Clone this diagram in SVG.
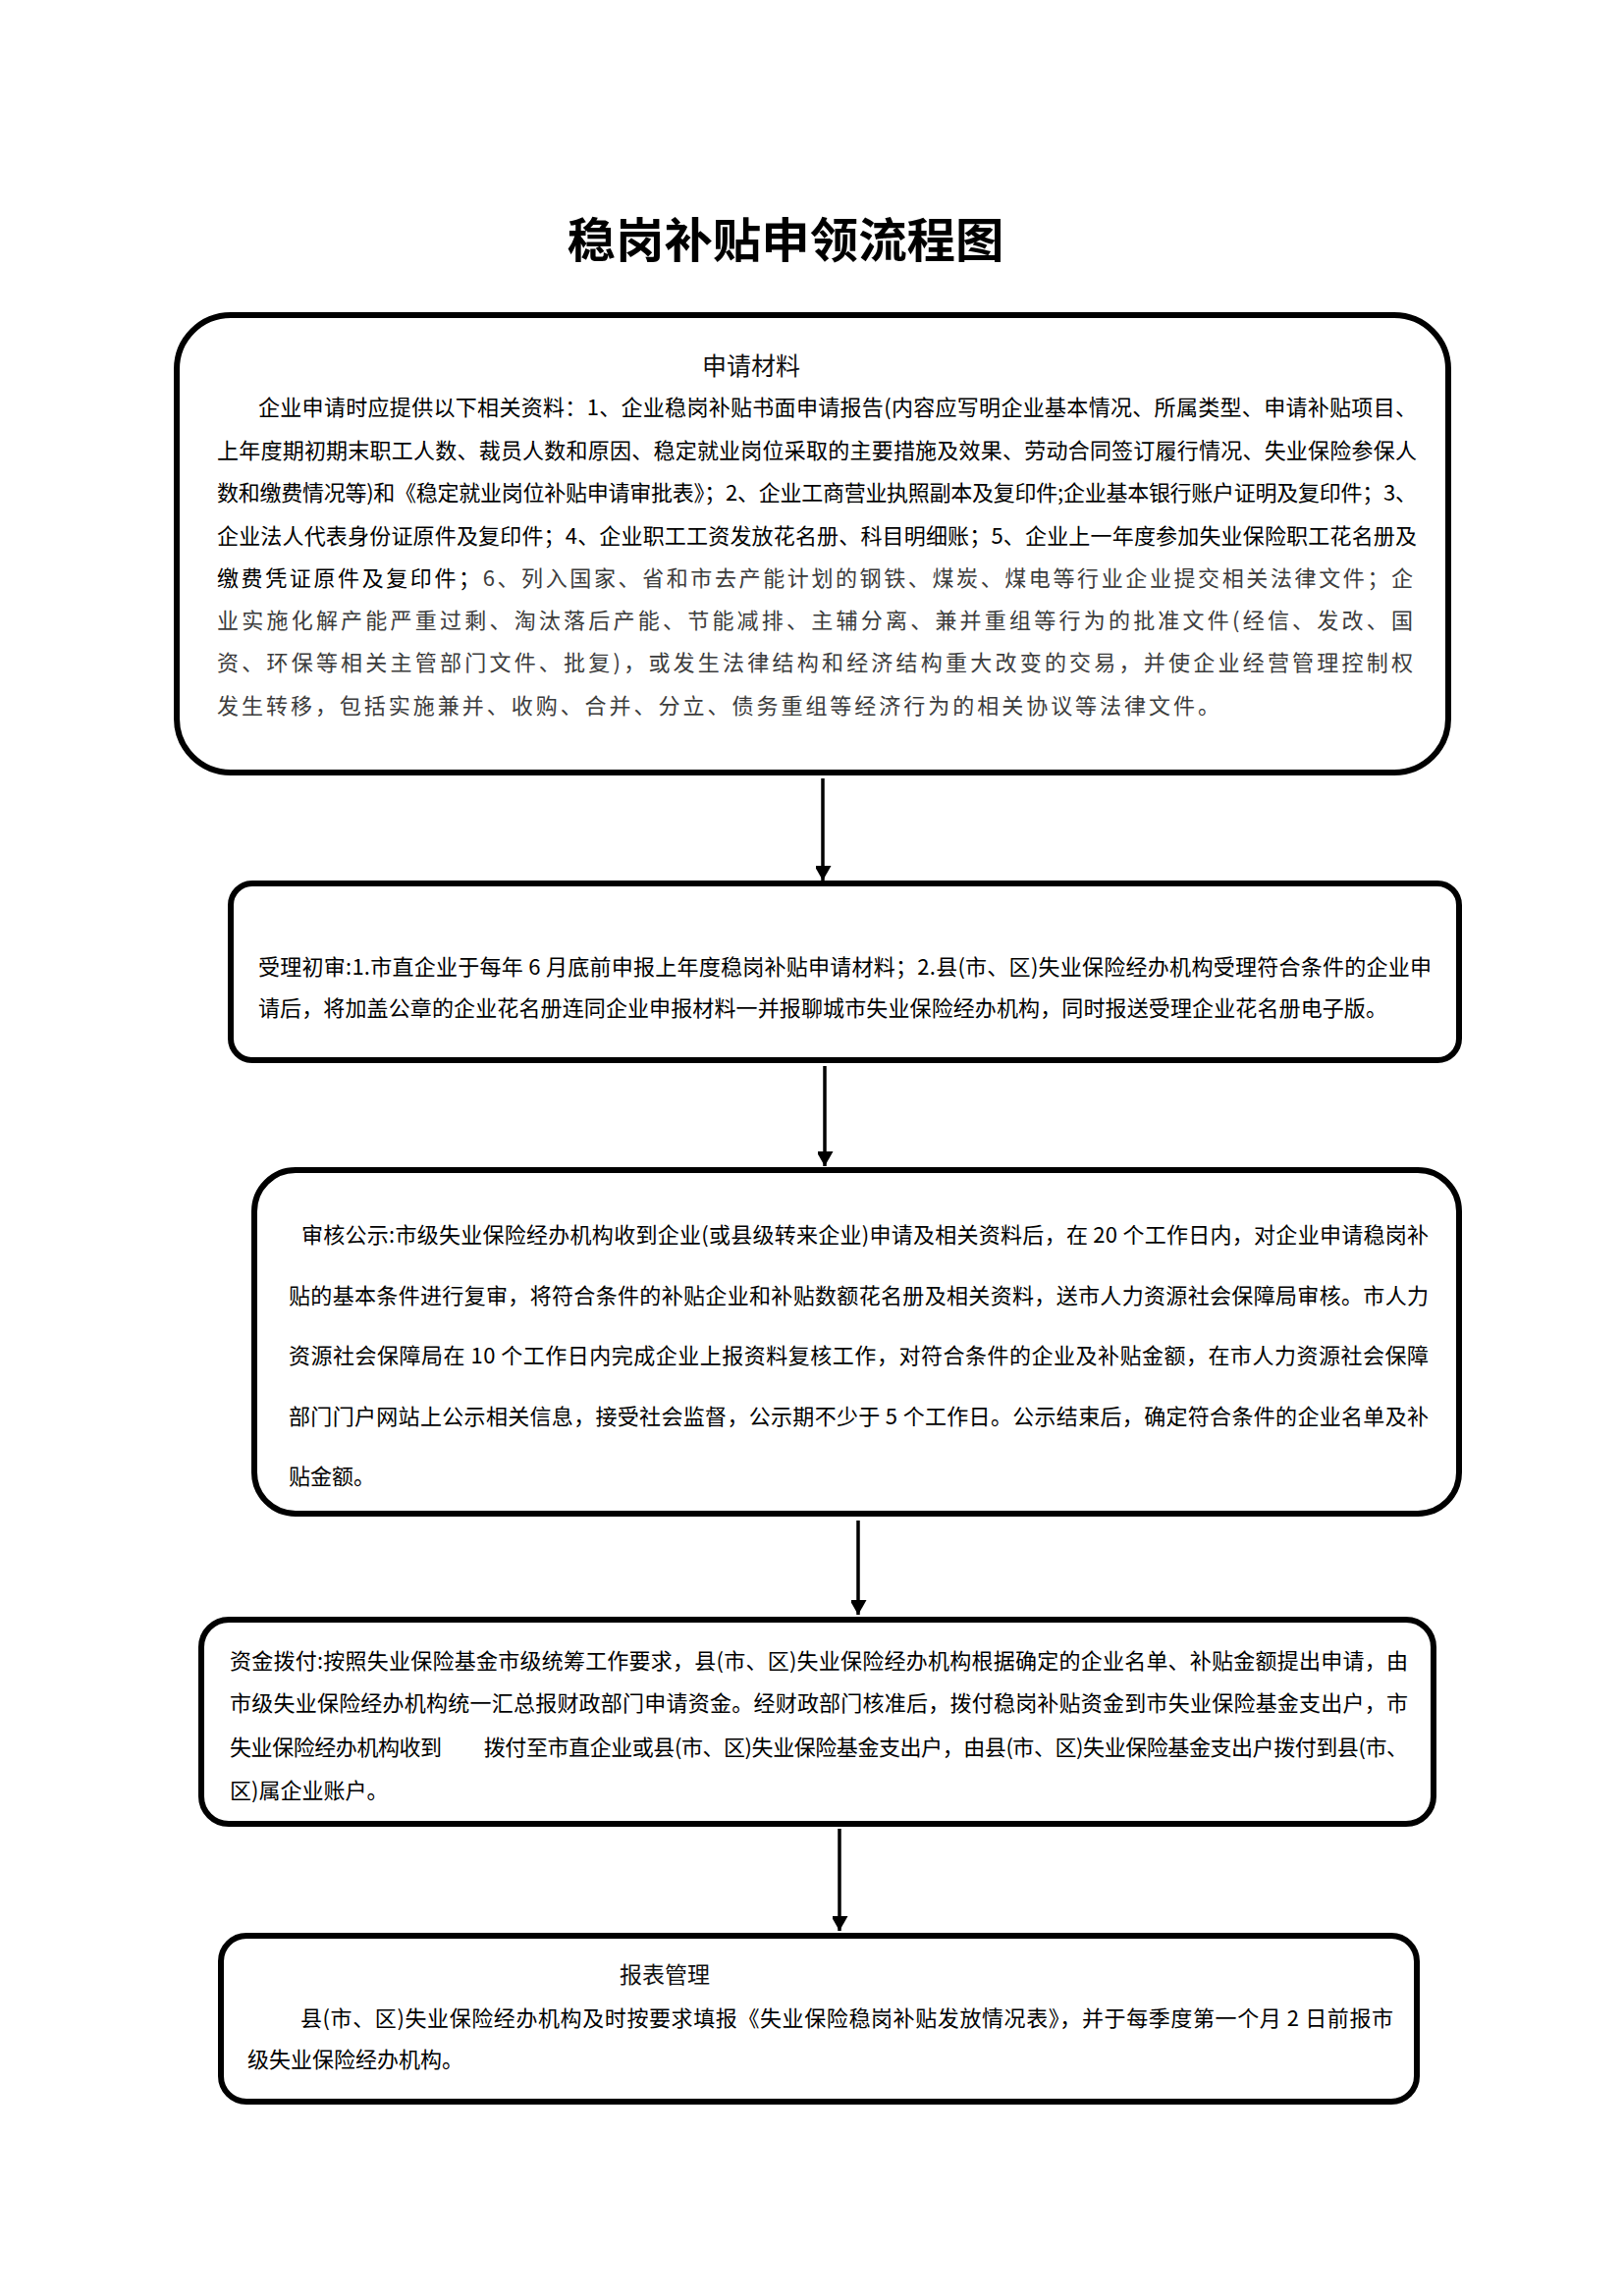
<svg xmlns="http://www.w3.org/2000/svg" width="1654" height="2339" viewBox="0 0 1654 2339">
<style>
.box{fill:#fff;stroke:#000;stroke-width:6}
.t{font-family:"Noto Sans CJK SC","Liberation Sans",sans-serif;font-size:22px;fill:#000}
.g{fill:#3c3c3c}
.h{font-family:"Noto Sans CJK SC","Liberation Sans",sans-serif;font-size:25px;fill:#111}
.title{font-family:"Noto Sans CJK SC","Liberation Serif",serif;font-size:48px;font-weight:700;fill:#000}
.arr{stroke:#000;stroke-width:3.5;fill:none;marker-end:url(#ah)}
</style>
<defs>
<marker id="ah" markerUnits="userSpaceOnUse" markerWidth="18" markerHeight="16" refX="15" refY="8.5" orient="auto">
<path d="M0,0 L15,8.5 L0,17 Z" fill="#000"/>
</marker>
</defs>
<rect width="1654" height="2339" fill="#fff"/>
<text class="title" x="800" y="262" text-anchor="middle" textLength="445" lengthAdjust="spacingAndGlyphs">稳岗补贴申领流程图</text>

<g id="connectors">
<line class="arr" x1="838" y1="793" x2="838" y2="897"/>
<line class="arr" x1="840" y1="1086" x2="840" y2="1188"/>
<line class="arr" x1="874" y1="1549" x2="874" y2="1645"/>
<line class="arr" x1="855" y1="1863" x2="855" y2="1967"/>
</g>

<g id="node-apply">
<rect class="box" x="180" y="321" width="1295" height="466" rx="55" ry="55"/>
<text class="h" x="765" y="382" text-anchor="middle">申请材料</text>
<text class="t" x="263" y="423" textLength="1180" lengthAdjust="spacing">企业申请时应提供以下相关资料：1、企业稳岗补贴书面申请报告(内容应写明企业基本情况、所属类型、申请补贴项目、</text>
<text class="t" x="221" y="467" textLength="1222" lengthAdjust="spacing">上年度期初期末职工人数、裁员人数和原因、稳定就业岗位采取的主要措施及效果、劳动合同签订履行情况、失业保险参保人</text>
<text class="t" x="221" y="510" textLength="1222" lengthAdjust="spacing">数和缴费情况等)和《稳定就业岗位补贴申请审批表》；2、企业工商营业执照副本及复印件;企业基本银行账户证明及复印件；3、</text>
<text class="t" x="221" y="554" textLength="1222" lengthAdjust="spacing">企业法人代表身份证原件及复印件；4、企业职工工资发放花名册、科目明细账；5、企业上一年度参加失业保险职工花名册及</text>
<text class="t" x="221" y="597" textLength="1218" lengthAdjust="spacing">缴费凭证原件及复印件；<tspan class="g">6、列入国家、省和市去产能计划的钢铁、煤炭、煤电等行业企业提交相关法律文件；企</tspan></text>
<text class="t g" x="221" y="640" textLength="1218" lengthAdjust="spacing">业实施化解产能严重过剩、淘汰落后产能、节能减排、主辅分离、兼并重组等行为的批准文件(经信、发改、国</text>
<text class="t g" x="221" y="683" textLength="1218" lengthAdjust="spacing">资、环保等相关主管部门文件、批复)，或发生法律结构和经济结构重大改变的交易，并使企业经营管理控制权</text>
<text class="t g" x="221" y="727" textLength="1021" lengthAdjust="spacing">发生转移，包括实施兼并、收购、合并、分立、债务重组等经济行为的相关协议等法律文件。</text>
</g>

<g id="node-accept">
<rect class="box" x="235" y="900" width="1251" height="180" rx="22" ry="22"/>
<text class="t" x="263" y="993" textLength="1195" lengthAdjust="spacing">受理初审:1.市直企业于每年 6 月底前申报上年度稳岗补贴申请材料；2.县(市、区)失业保险经办机构受理符合条件的企业申</text>
<text class="t" x="263" y="1035" textLength="1150" lengthAdjust="spacing">请后，将加盖公章的企业花名册连同企业申报材料一并报聊城市失业保险经办机构，同时报送受理企业花名册电子版。</text>
</g>

<g id="node-review">
<rect class="box" x="259" y="1192" width="1227" height="350" rx="42" ry="42"/>
<text class="t" x="307" y="1266" textLength="1148" lengthAdjust="spacing">审核公示:市级失业保险经办机构收到企业(或县级转来企业)申请及相关资料后，在 20 个工作日内，对企业申请稳岗补</text>
<text class="t" x="294" y="1328" textLength="1161" lengthAdjust="spacing">贴的基本条件进行复审，将符合条件的补贴企业和补贴数额花名册及相关资料，送市人力资源社会保障局审核。市人力</text>
<text class="t" x="294" y="1389" textLength="1161" lengthAdjust="spacing">资源社会保障局在 10 个工作日内完成企业上报资料复核工作，对符合条件的企业及补贴金额，在市人力资源社会保障</text>
<text class="t" x="294" y="1451" textLength="1161" lengthAdjust="spacing">部门门户网站上公示相关信息，接受社会监督，公示期不少于 5 个工作日。公示结束后，确定符合条件的企业名单及补</text>
<text class="t" x="294" y="1512">贴金额。</text>
</g>

<g id="node-fund">
<rect class="box" x="205" y="1650" width="1255" height="208" rx="28" ry="28"/>
<text class="t" x="234" y="1700" textLength="1200" lengthAdjust="spacing">资金拨付:按照失业保险基金市级统筹工作要求，县(市、区)失业保险经办机构根据确定的企业名单、补贴金额提出申请，由</text>
<text class="t" x="234" y="1743" textLength="1200" lengthAdjust="spacing">市级失业保险经办机构统一汇总报财政部门申请资金。经财政部门核准后，拨付稳岗补贴资金到市失业保险基金支出户，市</text>
<text class="t" x="234" y="1788" textLength="1200" lengthAdjust="spacing">失业保险经办机构收到　　拨付至市直企业或县(市、区)失业保险基金支出户，由县(市、区)失业保险基金支出户拨付到县(市、</text>
<text class="t" x="234" y="1832">区)属企业账户。</text>
</g>

<g id="node-report">
<rect class="box" x="225" y="1972" width="1218" height="169" rx="26" ry="26"/>
<text class="h" x="677" y="2020" text-anchor="middle" style="font-size:23px">报表管理</text>
<text class="t" x="306" y="2064" textLength="1113" lengthAdjust="spacing">县(市、区)失业保险经办机构及时按要求填报《失业保险稳岗补贴发放情况表》，并于每季度第一个月 2 日前报市</text>
<text class="t" x="252" y="2106">级失业保险经办机构。</text>
</g>
</svg>
